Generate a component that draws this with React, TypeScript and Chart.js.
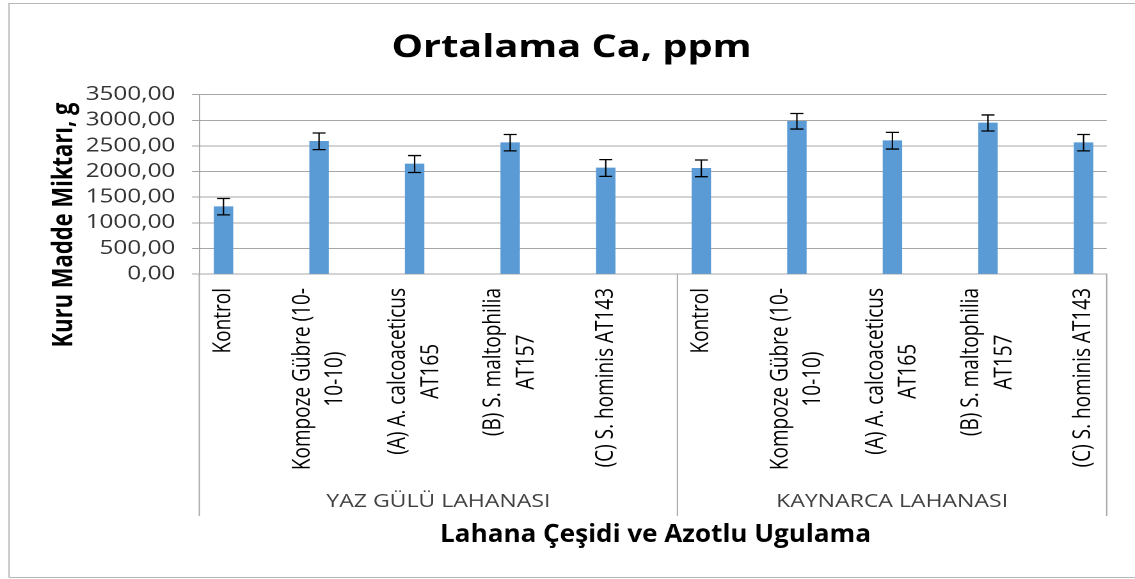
import React, { useEffect, useRef } from "react";
import { Chart, registerables } from "chart.js";

Chart.register(...registerables);

// ---------- data ----------
const chartTitle = "Ortalama Ca, ppm";
const yAxisTitle = "Kuru Madde Miktarı, g";
const xAxisTitle = "Lahana Çeşidi ve Azotlu Ugulama";
const groups = ["YAZ GÜLÜ LAHANASI", "KAYNARCA LAHANASI"];
const treatmentLabels: string[][] = [
  ["Kontrol"],
  ["Kompoze Gübre (10-", "10-10)"],
  ["(A) A. calcoaceticus", "AT165"],
  ["(B) S. maltophilia", "AT157"],
  ["(C) S. hominis AT143"],
];
const yazGuluValues = [1314, 2590, 2147, 2563, 2069];
const yazGuluErrors = [160, 162, 165, 160, 163];
const kaynarcaValues = [2063, 2981, 2602, 2948, 2563];
const kaynarcaErrors = [163, 152, 163, 157, 160];
const yTicks = [0, 500, 1000, 1500, 2000, 2500, 3000, 3500];

// ---------- layout (screen px, canvas drawn at internal width then stretched) ----------
const W = 1135;
const H = 579;
const IW = 887;
const SX = W / IW;
const ix = (screenX: number) => screenX / SX;

const GRID = "#a6a6a6";
const BAR = "#5B9BD5";
const FONT = '"Open Sans", sans-serif';

const X_MIN = -0.253;
const X_MAX = 9.242;
const GROUP_SPLIT = 4.75;

const PAD_RIGHT = IW - ix(1106.7);
const TITLE_CENTER = ix(571.5);
const PAD_LEFT = 2 * TITLE_CENTER - (IW - PAD_RIGHT);

const values = [...yazGuluValues, ...kaynarcaValues];
const errors = [...yazGuluErrors, ...kaynarcaErrors];
const labels = [...treatmentLabels, ...treatmentLabels];

const fmt = (v: number) => v.toFixed(2).replace(".", ",");

const errorBarPlugin = {
  id: "errorBars",
  afterDatasetsDraw(chart: any) {
    const { ctx, scales } = chart;
    const ys = scales.y;
    const meta = chart.getDatasetMeta(0);
    ctx.save();
    ctx.strokeStyle = "#000";
    meta.data.forEach((bar: any, i: number) => {
      const x = bar.x;
      const yTop = ys.getPixelForValue(values[i] + errors[i]);
      const yBot = ys.getPixelForValue(values[i] - errors[i]);
      const hw = ix(6.5);
      ctx.lineWidth = 1.1;
      ctx.beginPath();
      ctx.moveTo(x, yTop);
      ctx.lineTo(x, yBot);
      ctx.stroke();
      ctx.lineWidth = 1.3;
      ctx.beginPath();
      ctx.moveTo(x - hw, yTop);
      ctx.lineTo(x + hw, yTop);
      ctx.moveTo(x - hw, yBot);
      ctx.lineTo(x + hw, yBot);
      ctx.stroke();
    });
    ctx.restore();
  },
};

const overlayPlugin = {
  id: "overlay",
  afterDraw(chart: any) {
    const { ctx, chartArea, scales } = chart;
    const xs = scales.x;
    ctx.save();

    // outer frame
    ctx.strokeStyle = "#b8b8b8";
    ctx.lineWidth = 1;
    ctx.beginPath();
    ctx.moveTo(ix(9), 577.5);
    ctx.lineTo(ix(9), 3.5);
    ctx.lineTo(IW + 5, 3.5);
    ctx.moveTo(ix(9), 577.5);
    ctx.lineTo(IW + 5, 577.5);
    ctx.stroke();

    // group separators
    const seps = [chartArea.left, xs.getPixelForValue(GROUP_SPLIT), chartArea.right];
    ctx.strokeStyle = GRID;
    ctx.lineWidth = 1;
    ctx.beginPath();
    seps.forEach((x) => {
      ctx.moveTo(x, chartArea.bottom);
      ctx.lineTo(x, 516);
    });
    ctx.stroke();

    // rotated category labels
    ctx.font = `19px ${FONT}`;
    ctx.fillStyle = "#000";
    ctx.textAlign = "center";
    ctx.textBaseline = "middle";
    const lineGap = ix(33);
    labels.forEach((lines, i) => {
      const cx = xs.getPixelForValue(i);
      const bw = Math.max(...lines.map((l) => ctx.measureText(l).width));
      ctx.save();
      ctx.translate(cx, 288);
      ctx.rotate(-Math.PI / 2);
      lines.forEach((l, j) => {
        ctx.fillText(l, -bw / 2, (j - (lines.length - 1) / 2) * lineGap);
      });
      ctx.restore();
    });

    // group labels
    ctx.font = `18px ${FONT}`;
    ctx.fillStyle = "#404040";
    groups.forEach((g, k) => {
      const cx = (seps[k] + seps[k + 1]) / 2;
      ctx.fillText(g, cx, 502);
    });

    // y axis title
    ctx.save();
    ctx.font = `bold 22px ${FONT}`;
    ctx.fillStyle = "#000";
    ctx.translate(ix(64), 225);
    ctx.rotate(-Math.PI / 2);
    ctx.fillText(yAxisTitle, 0, 0);
    ctx.restore();

    // x axis title
    ctx.save();
    ctx.font = `bold 25px ${FONT}`;
    ctx.fillStyle = "#000";
    ctx.translate(ix(655.5), 535);
    ctx.scale(0.815, 1);
    ctx.fillText(xAxisTitle, 0, 0);
    ctx.restore();

    ctx.restore();
  },
};

export default function App() {
  const ref = useRef<HTMLCanvasElement | null>(null);

  useEffect(() => {
    document.body.style.margin = "0";
    const canvas = ref.current;
    if (!canvas) return;
    const chart = new Chart(canvas, {
      type: "bar",
      data: {
        datasets: [
          {
            data: values.map((v, i) => ({ x: i, y: v })),
            backgroundColor: BAR,
            borderWidth: 0,
            barThickness: ix(18.6),
          } as any,
        ],
      },
      options: {
        responsive: false,
        animation: false,
        devicePixelRatio: 2,
        layout: { padding: { left: PAD_LEFT, right: PAD_RIGHT, top: 0, bottom: 0 } },
        plugins: {
          legend: { display: false },
          tooltip: { enabled: false },
          title: {
            display: true,
            text: chartTitle,
            color: "#000",
            font: { family: FONT, size: 31, weight: "bold", lineHeight: 1.2 },
            padding: { top: 29.4, bottom: 28.1 },
          },
        },
        scales: {
          x: {
            type: "linear",
            min: X_MIN,
            max: X_MAX,
            offset: false,
            ticks: { display: false },
            grid: { display: false, offset: false },
            border: { display: true, color: GRID, width: 1 },
            afterFit: (s: any) => {
              s.height = H - 274;
            },
          },
          y: {
            min: 0,
            max: 3500,
            afterBuildTicks: (s: any) => {
              s.ticks = yTicks.map((v) => ({ value: v }));
            },
            ticks: {
              autoSkip: false,
              callback: (v: any) => fmt(Number(v)),
              font: { family: FONT, size: 19 },
              color: "#333",
              padding: 13,
            },
            grid: { color: GRID, lineWidth: 1, tickLength: ix(7.3) },
            border: { display: true, color: GRID, width: 1 },
            afterFit: (s: any) => {
              s.width = ix(199.3) - PAD_LEFT;
            },
          },
        } as any,
      },
      plugins: [errorBarPlugin, overlayPlugin],
    });
    return () => chart.destroy();
  }, []);

  return (
    <canvas
      ref={ref}
      width={IW}
      height={H}
      style={{ display: "block", width: `${W}px`, height: `${H}px` }}
    />
  );
}
